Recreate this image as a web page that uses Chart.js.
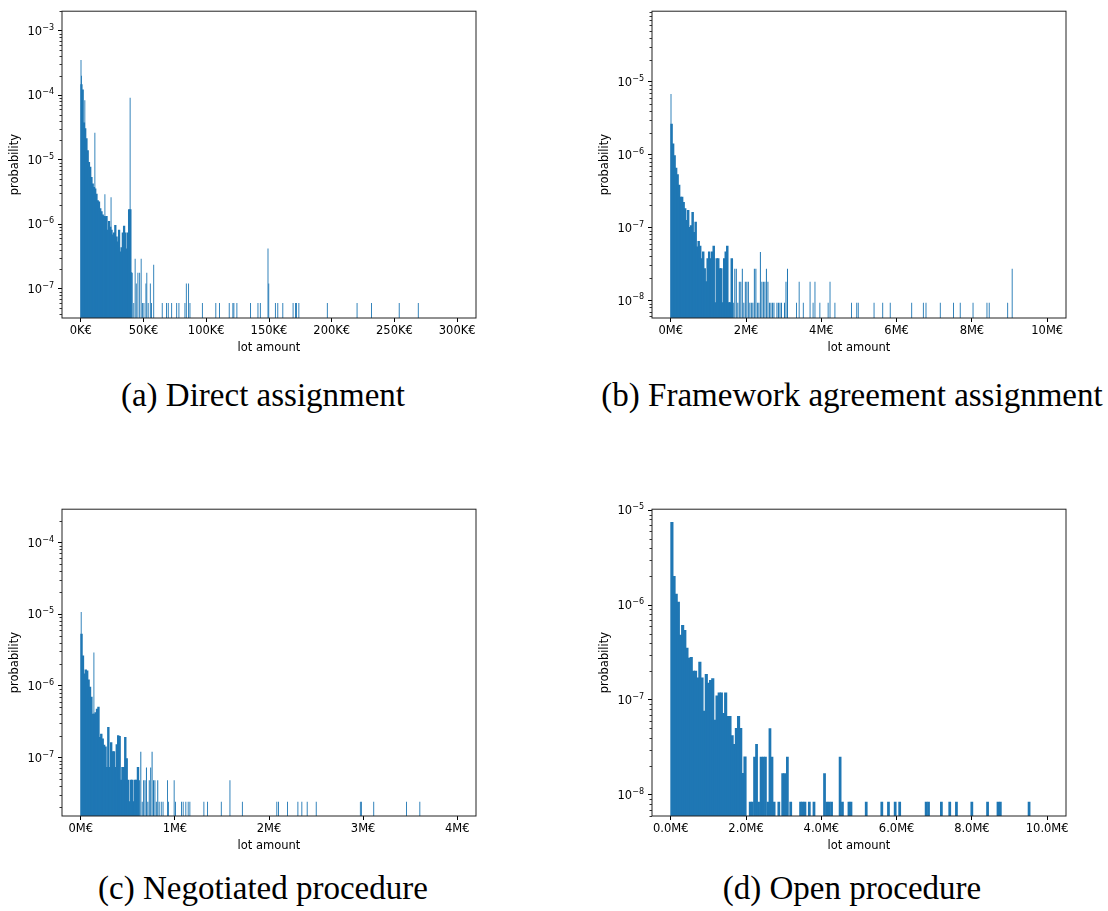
<!DOCTYPE html>
<html>
<head>
<meta charset="utf-8">
<script src="https://cdn.jsdelivr.net/npm/chart.js@4.4.1/dist/chart.umd.min.js"></script>
<style>
  body { margin: 0; background: #fff; width: 1108px; height: 911px; position: relative; overflow: hidden; }
  .panel { position: absolute; width: 520px; height: 360px; }
  .caption { position: absolute; width: 600px; text-align: center; white-space: nowrap;
             font-family: "Liberation Serif", serif; font-size: 33px; line-height: 33px; color: #000; }
</style>
</head>
<body>
<div class="panel" style="left:0;top:0"><canvas id="chartA" width="520" height="360"></canvas></div>
<div class="panel" style="left:590px;top:0"><canvas id="chartB" width="520" height="360"></canvas></div>
<div class="panel" style="left:0;top:498px"><canvas id="chartC" width="520" height="360"></canvas></div>
<div class="panel" style="left:590px;top:498px"><canvas id="chartD" width="520" height="360"></canvas></div>

<div class="caption" style="left:-37px;top:379px">(a) Direct assignment</div>
<div class="caption" style="left:552px;top:379px">(b) Framework agreement assignment</div>
<div class="caption" style="left:-37px;top:872px">(c) Negotiated procedure</div>
<div class="caption" style="left:552px;top:872px">(d) Open procedure</div>

<script>
    // (a) Direct assignment: lot amount in K€, 1K€ bins for the dense head
    const binA = 1;
    const headA = [1.45e-4, 1.2e-4, 3.7e-5, 3.0e-5, 2.1e-5, 1.37e-5, 9.0e-6, 7.6e-6, 5.3e-6, 4.2e-6,
                   3.7e-6, 3.5e-6, 2.9e-6, 2.3e-6, 2.2e-6, 1.73e-6, 1.56e-6, 1.38e-6, 1.31e-6, 1.3e-6,
                   1.31e-6, 8.0e-7, 1.1e-6, 8.9e-7, 8.0e-7, 6.8e-7, 7.3e-7, 9.5e-7, 6.3e-7, 5.3e-7,
                   8.0e-7, 3.7e-7, 4.3e-7, 7.3e-7, 9.3e-7, 7.3e-7, 4.1e-7, 7.3e-7, 1.67e-6, 1.67e-6];
    const tailA = [];
    const outAx = [0.15, 0.5, 3.2, 11.2, 19.2, 24.1, 39.3,
                   40.4, 41.0, 42.2, 43.3, 44.2, 45.5, 46.9, 48.1, 49.1, 50.3,
                   51.9, 52.6, 53.7, 55.4, 56.3, 58.1,
                   64.9, 68.3, 69.7, 72.4, 76.4, 78.2, 83.0,
                   84.1, 85.9, 87.0,
                   96.9, 107.6, 110.5, 118.3, 121.2, 122.0, 124.4,
                   135.3, 141.2, 143.1,
                   149.2, 149.8,
                   155.1, 157.0, 161.0, 169.2, 171.1, 171.9, 173.8,
                   196.5, 220.2, 231.7, 253.8, 269.0];
    const outAy = [3.5e-4, 2.0e-4, 8.3e-5, 2.6e-5, 2.9e-6, 2.6e-6, 9.1e-5,
                   1.8e-7, 1.76e-7, 6e-8, 2.9e-7, 1.2e-7, 1.76e-7, 1.76e-7, 2.9e-7, 6e-8, 6e-8,
                   1.2e-7, 1.76e-7, 6e-8, 1.2e-7, 6e-8, 2.35e-7,
                   6e-8, 6e-8, 6e-8, 6e-8, 6e-8, 6e-8, 6e-8,
                   1.2e-7, 1.2e-7, 6e-8,
                   6e-8, 6e-8, 6e-8, 6e-8, 6e-8, 6e-8, 6e-8,
                   6e-8, 6e-8, 6e-8,
                   4.2e-7, 1.2e-7,
                   6e-8, 6e-8, 6e-8, 6e-8, 6e-8, 6e-8, 6e-8,
                   6e-8, 6e-8, 6e-8, 6e-8, 6e-8];
    const xTicksA = [0, 50, 100, 150, 200, 250, 300];
    const yTicksA = [1e-7, 1e-6, 1e-5, 1e-4, 1e-3];

    // (b) Framework agreement assignment: M€, 0.04M€ bins
    const binB = 0.04;
    const headB = [2.6e-6, 1.4e-6, 9.6e-7, 6.5e-7, 5.3e-7, 3.8e-7, 2.6e-7, 2.6e-7, 2.2e-7, 1.8e-7,
                   1.24e-7, 1.7e-7, 1.0e-7, 1.05e-7, 1.6e-7, 8.5e-8, 1.18e-7, 5.4e-8, 6.4e-8, 5.5e-8,
                   3.7e-8, 4.6e-8, 2.7e-8, 1.8e-8, 3.7e-8, 4.6e-8, 3.7e-8, 4.6e-8, 5.5e-8, 9.2e-9,
                   3.7e-8, 3.7e-8, 2.7e-8, 2.7e-8, 9.2e-9, 3.7e-8, 4.6e-8, 5.5e-8, 9.2e-9, 9.2e-9,
                   3.7e-8];
    const tailB = [9.2e-9, 2.7e-8, 2.7e-8, 9.2e-9, 1.8e-8, 1.8e-8, 2.7e-8, 9.2e-9, 1.8e-8, 1.8e-8,
                   1.8e-8, 9.2e-9, 9.2e-9, 9.2e-9, 2.7e-8, 2.7e-8, 9.2e-9, 9.2e-9, 4.6e-8, 1.8e-8,
                   1.8e-8, 1.8e-8, 2.7e-8, 1.8e-8, 9.2e-9, 9.2e-9, 9.2e-9, 9.2e-9, 0, 9.2e-9,
                   9.2e-9, 9.2e-9, 9.2e-9, 0, 9.2e-9, 1.8e-8, 2.7e-8];
    const outBx = [0.005, 3.34, 3.41, 3.52, 3.70, 3.78, 3.83, 3.96, 4.18, 4.23, 4.36,
                   4.80, 4.94, 4.98, 5.40, 5.63, 5.83, 6.40, 6.71, 6.78, 7.16, 7.51, 7.69, 8.03, 8.40, 8.46, 8.95,
                   9.07];
    const outBy = [6.8e-6, 9.2e-9, 1.8e-8, 9.2e-9, 1.8e-8, 9.2e-9, 1.8e-8, 9.2e-9, 9.2e-9, 1.8e-8, 9.2e-9,
                   9.2e-9, 9.2e-9, 9.2e-9, 9.2e-9, 9.2e-9, 9.2e-9, 9.2e-9, 9.2e-9, 9.2e-9, 9.2e-9, 9.2e-9, 9.2e-9, 9.2e-9, 9.2e-9, 9.2e-9, 9.2e-9,
                   2.7e-8];
    const xTicksB = [0, 2, 4, 6, 8, 10];
    const yTicksB = [1e-8, 1e-7, 1e-6, 1e-5];

    // (c) Negotiated procedure: M€, 0.015M€ bins
    const binC = 0.015;
    const headC = [5.2e-6, 2.6e-6, 1.45e-6, 1.65e-6, 1.6e-6, 1.2e-6, 9.5e-7, 6.9e-7, 4.0e-7, 4.0e-7,
                   4.2e-7, 4.7e-7, 5.0e-7, 1.9e-7, 2.1e-7, 1.8e-7, 1.47e-7, 1.4e-7, 7.2e-8, 2.6e-7,
                   7.2e-8, 1.6e-7, 1.2e-7, 1.2e-7, 7.2e-8, 1.5e-7, 2.0e-7, 1.95e-7, 4.8e-8, 7.2e-8,
                   7.2e-8, 1.9e-7, 9.6e-8, 4.8e-8, 2.4e-8, 4.8e-8, 4.8e-8, 2.4e-8, 4.8e-8, 4.8e-8,
                   7.2e-8];
    const tailC = [4.8e-8, 1.2e-7, 2.4e-8, 4.8e-8, 4.8e-8, 7.2e-8, 2.4e-8, 4.8e-8, 7.2e-8, 1.2e-7,
                   4.8e-8, 4.8e-8, 2.4e-8, 4.8e-8, 2.4e-8];
    const outCx = [0.004, 0.139, 0.855, 0.874, 0.921, 0.931, 0.992, 1.006,
                   1.070, 1.088, 1.116, 1.141, 1.159, 1.308, 1.347, 1.493, 1.585, 1.717,
                   2.083, 2.101, 2.197, 2.307, 2.349, 2.406, 2.502,
                   2.971, 2.982, 3.113, 3.461, 3.603];
    const outCy = [1.07e-5, 2.9e-6, 2.4e-8, 2.4e-8, 4.8e-8, 2.4e-8, 4.8e-8, 2.4e-8,
                   2.4e-8, 2.4e-8, 2.4e-8, 2.4e-8, 2.4e-8, 2.4e-8, 2.4e-8, 2.4e-8, 4.8e-8, 2.4e-8,
                   2.4e-8, 2.4e-8, 2.4e-8, 2.4e-8, 2.4e-8, 2.4e-8, 2.4e-8,
                   2.4e-8, 2.4e-8, 2.4e-8, 2.4e-8, 2.4e-8];
    const xTicksC = [0, 1, 2, 3, 4];
    const yTicksC = [1e-7, 1e-6, 1e-5, 1e-4];

    // (d) Open procedure: M€, 175 bins over 0-10M€
    const binD = 10 / 175;
    const headD = [7.4e-6, 2.0e-6, 1.3e-6, 1.07e-6, 4.8e-7, 6.1e-7, 5.4e-7, 3.5e-7, 2.75e-7, 2.8e-7,
                   2.0e-7, 2.0e-7, 1.7e-7, 2.5e-7, 1.7e-7, 7.6e-8, 1.85e-7, 1.5e-7, 1.6e-7, 1.67e-7,
                   6.1e-8, 1.1e-7, 1.18e-7, 1.18e-7, 7.2e-8, 1.18e-7, 6.7e-8, 6.7e-8, 4.2e-8, 3.4e-8,
                   5.0e-8, 6.7e-8, 5.0e-8, 1.68e-8, 2.5e-8];
    const tailD = [];
    const outDx = [2.109, 2.163, 2.225, 2.278, 2.332, 2.398, 2.457, 2.514, 2.581, 2.634,
                   2.688, 2.745, 2.870, 2.972, 3.025, 3.097, 3.186, 3.448, 3.506, 3.564,
                   3.680, 3.804, 4.084, 4.146, 4.208, 4.271, 4.498, 4.560, 4.733, 4.787,
                   5.192, 5.606, 5.783, 5.961, 6.081, 6.784, 6.847, 7.189, 7.411, 7.589,
                   7.998, 8.416, 8.693, 8.755, 9.519];
    const outDy = [8.4e-9, 8.4e-9, 2.5e-8, 3.4e-8, 8.4e-9, 2.5e-8, 2.5e-8, 2.5e-8, 8.4e-9, 5.0e-8,
                   2.5e-8, 8.4e-9, 8.4e-9, 1.68e-8, 1.68e-8, 2.5e-8, 8.4e-9, 8.4e-9, 8.4e-9, 8.4e-9,
                   8.4e-9, 8.4e-9, 1.68e-8, 8.4e-9, 8.4e-9, 8.4e-9, 2.5e-8, 8.4e-9, 8.4e-9, 8.4e-9,
                   8.4e-9, 8.4e-9, 8.4e-9, 8.4e-9, 8.4e-9, 8.4e-9, 8.4e-9, 8.4e-9, 8.4e-9, 8.4e-9,
                   8.4e-9, 8.4e-9, 8.4e-9, 8.4e-9, 8.4e-9];
    const xTicksD = [0, 2, 4, 6, 8, 10];
    const yTicksD = [1e-8, 1e-7, 1e-6, 1e-5];


    const blue = '#1f77b4';
    const PLOT_W = 414;   // width of the axes box in px
    const FONT = "'DejaVu Sans'";
    const FS = 11.5;
    Chart.defaults.font.family = FONT;
    Chart.defaults.color = '#000';

    // spines, minor log ticks and 10^n labels with a raised exponent, like matplotlib
    const frame = {
        id: 'frame',
        afterDraw(chart) {
            let {ctx, chartArea: a, scales: {y}} = chart;
            ctx.save();
            ctx.strokeStyle = '#000';
            ctx.lineWidth = 0.8;
            let lo = Math.floor(Math.log10(y.min)), hi = Math.ceil(Math.log10(y.max));
            for (let e = lo; e <= hi; e++) {
                for (let m = 2; m <= 9; m++) {
                    let v = m * Math.pow(10, e);
                    if (v < y.min || v > y.max) continue;
                    let py = Math.round(y.getPixelForValue(v)) + 0.5;
                    ctx.beginPath();
                    ctx.moveTo(a.left - 2.5, py);
                    ctx.lineTo(a.left, py);
                    ctx.stroke();
                }
            }
            ctx.fillStyle = '#000';
            ctx.textBaseline = 'alphabetic';
            ctx.textAlign = 'left';
            y.ticks.forEach(t => {
                let py = y.getPixelForValue(t.value);
                let ex = '\u2212' + Math.abs(Math.round(Math.log10(t.value)));
                ctx.font = (FS * 0.7) + 'px ' + FONT;
                let we = ctx.measureText(ex).width;
                ctx.font = FS + 'px ' + FONT;
                let wb = ctx.measureText('10').width;
                let right = a.left - 8;
                ctx.fillText('10', right - we - wb, py + 4.3);
                ctx.font = (FS * 0.7) + 'px ' + FONT;
                ctx.fillText(ex, right - we, py - 0.8);
            });
            ctx.strokeStyle = '#222';
            ctx.lineWidth = 1;
            ctx.strokeRect(a.left, a.top, a.right - a.left, a.bottom - a.top);
            ctx.restore();
        }
    };

    function barSet(xs, ys, thick, inflate) {
        return {
            data: xs.map((x, i) => ({x: x, y: ys[i]})).filter(p => p.y > 0),
            backgroundColor: blue,
            borderWidth: 0,
            barThickness: thick,
            grouped: false,
            inflateAmount: inflate
        };
    }

    function makeChart(id, p) {
        let pxPerUnit = PLOT_W / (p.xmax - p.xmin);
        let headX = p.head.map((_, k) => (k + 0.5) * p.bin);
        let tailX = p.tail.map((_, k) => (p.head.length + k + 0.5) * p.bin);
        let datasets = [
            barSet(headX, p.head, p.bin * pxPerUnit, 0.5),
            barSet(tailX, p.tail, p.tailThick, 0),
            barSet(p.outX, p.outY, p.outThick || p.bin * pxPerUnit, p.outThick ? 0 : 0.3)
        ];
        return new Chart(document.getElementById(id), {
            type: 'bar',
            data: { datasets: datasets },
            options: {
                responsive: false,
                animation: false,
                events: [],
                layout: { padding: { top: 9.3, right: 44, bottom: 0, left: 0 } },
                plugins: { legend: { display: false }, tooltip: { enabled: false } },
                scales: {
                    x: {
                        type: 'linear',
                        min: p.xmin, max: p.xmax,
                        offset: false,
                        grid: { drawOnChartArea: false, drawTicks: true, tickLength: 4, tickColor: '#000', offset: false },
                        border: { display: false },
                        ticks: {
                            autoSkip: false, maxRotation: 0, padding: 2,
                            font: { size: FS },
                            callback: v => (p.decimals ? v.toFixed(p.decimals) : v) + p.unit
                        },
                        title: { display: true, text: 'lot amount', font: { size: FS }, padding: { top: 0, bottom: 5 } },
                        afterBuildTicks: s => { s.ticks = p.xTicks.map(v => ({value: v})); },
                        afterFit: s => { s.height = 42; }
                    },
                    y: {
                        type: 'logarithmic',
                        min: p.ymin, max: p.ymax,
                        grid: { drawOnChartArea: false, drawTicks: true, tickLength: 4, tickColor: '#000' },
                        border: { display: false },
                        ticks: { autoSkip: false, padding: 4, callback: () => '' },
                        title: { display: true, text: 'probability', font: { size: FS }, padding: { top: 8.4, bottom: 0 } },
                        afterBuildTicks: s => { s.ticks = p.yTicks.map(v => ({value: v})); },
                        afterFit: s => { s.width = 62; }
                    }
                }
            },
            plugins: [frame]
        });
    }

    makeChart('chartA', { bin: binA, head: headA, tail: tailA, tailThick: 1, outX: outAx, outY: outAy, outThick: 0.9,
        xmin: -15, xmax: 315, ymin: 3.5e-8, ymax: 2.0e-3, xTicks: xTicksA, yTicks: yTicksA, unit: 'K€', decimals: 0 });
    makeChart('chartB', { bin: binB, head: headB, tail: tailB, tailThick: 1.0, outX: outBx, outY: outBy, outThick: 0.9,
        xmin: -0.5, xmax: 10.5, ymin: 5.7e-9, ymax: 9.3e-5, xTicks: xTicksB, yTicks: yTicksB, unit: 'M€', decimals: 0 });
    makeChart('chartC', { bin: binC, head: headC, tail: tailC, tailThick: 1.0, outX: outCx, outY: outCy, outThick: 0.9,
        xmin: -0.2, xmax: 4.2, ymin: 1.52e-8, ymax: 2.9e-4, xTicks: xTicksC, yTicks: yTicksC, unit: 'M€', decimals: 0 });
    makeChart('chartD', { bin: binD, head: headD, tail: tailD, tailThick: 1, outX: outDx, outY: outDy, outThick: 0,
        xmin: -0.5, xmax: 10.5, ymin: 5.98e-9, ymax: 1.024e-5, xTicks: xTicksD, yTicks: yTicksD, unit: 'M€', decimals: 1 });
</script>
</body>
</html>
